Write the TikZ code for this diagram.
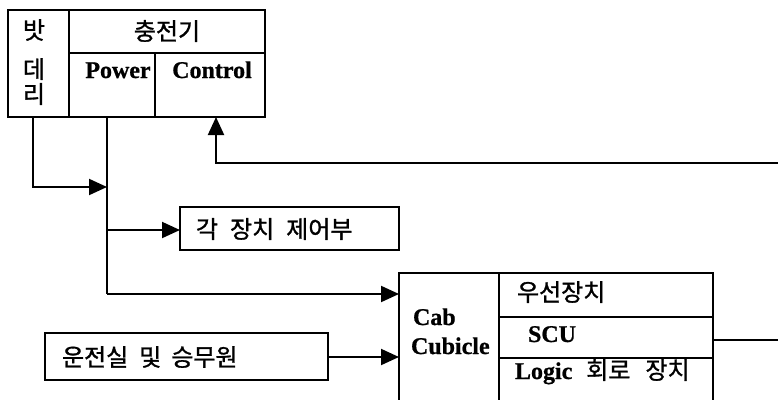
\documentclass[tikz,border=0pt]{standalone}
\usepackage{fontspec}
\usetikzlibrary{arrows.meta}
\newfontfamily\kr[FakeBold=1.2]{Noto Sans CJK KR}
\newfontfamily\tb[FakeBold=0.8]{Liberation Serif}
\newcommand\krs{\kr\fontsize{24}{28}\selectfont}
\newcommand\tbs{\tb\bfseries\fontsize{24}{28}\selectfont}
\begin{document}
\begin{tikzpicture}[x=1pt,y=-1pt, line width=2pt,
  box/.style={draw, rectangle, inner sep=0pt, outer sep=0pt, anchor=north west},
  kt/.style={font=\krs, inner sep=0pt},
  bt/.style={font=\tbs, inner sep=0pt},
  arr/.style={-{Triangle[length=18pt,width=16pt]}}]
\useasboundingbox (0,0) rectangle (778,399);
\clip (0,0) rectangle (778,399);
% top block
\node[box, minimum width=61pt, minimum height=107pt] (bat) at (8,10) {};
\node[box, minimum width=196pt, minimum height=43pt] (chg) at (69,10) {};
\node[box, minimum width=86pt, minimum height=64pt] (pow) at (69,53) {};
\node[box, minimum width=110pt, minimum height=64pt] (ctl) at (155,53) {};
\node[kt] (t1) at (34,30) {밧};
\node[kt] (t2) at (34,69) {데};
\node[kt] (t3) at (34,94) {리};
\node[kt] (tchg) at (167,31) {충전기};
\node[bt, anchor=base] (tpow) at (118,78) {Power};
\node[bt, anchor=base] (tctl) at (212,78) {Control};
% device box
\node[box, minimum width=219pt, minimum height=43pt] (dev) at (180,207) {};
\node[kt, anchor=west] (tdev) at (195,229) {각\hspace{12pt}장치\hspace{12pt}제어부};
% cab room box
\node[box, minimum width=283pt, minimum height=47pt] (crew) at (45,333) {};
\node[kt, anchor=west] (tcrew) at (61,357) {운전실\hspace{11pt}및\hspace{10pt}승무원};
% cab cubicle
\node[box, minimum width=100pt, minimum height=140pt] (cab) at (399,273) {};
\node[box, minimum width=214pt, minimum height=44pt] (ra) at (499,273) {};
\node[box, minimum width=214pt, minimum height=41pt] (rb) at (499,317) {};
\node[box, minimum width=214pt, minimum height=55pt] (rc) at (499,358) {};
\node[bt, anchor=base west] (tcab) at (412,325) {Cab};
\node[bt, anchor=base west] (tcub) at (410,354) {Cubicle};
\node[kt, anchor=west] (tra) at (516,292) {우선장치};
\node[bt, anchor=base west] (trb) at (527,342) {SCU};
\node[inner sep=0pt, anchor=base west] (trc) at (514,379) {{\tbs Logic}\hspace{14pt}{\krs 회로}\hspace{15pt}{\krs 장치}};
% connectors
\coordinate (bx) at (33,187);
\coordinate (px) at (107,187);
\coordinate (pt) at (107,117);
\coordinate (pb) at (107,294);
\coordinate (pd) at (107,230);
\coordinate (cx) at (216,163);
\coordinate (rr) at (778,163);
\coordinate (sr) at (778,340);
\coordinate (cb) at (328,357);
\draw[arr] (bx |- bat.south) -- (bx) -- (px);
\draw (pt) -- (pb);
\draw[arr] (pb) -- (pb -| cab.west);
\draw[arr] (pd) -- (pd -| dev.west);
\draw[arr] (rr) -- (cx) -- (cx |- ctl.south);
\draw[arr] (cb -| crew.east) -- (cb -| cab.west);
\draw (rb.east |- sr) -- (sr);
\end{tikzpicture}
\end{document}
